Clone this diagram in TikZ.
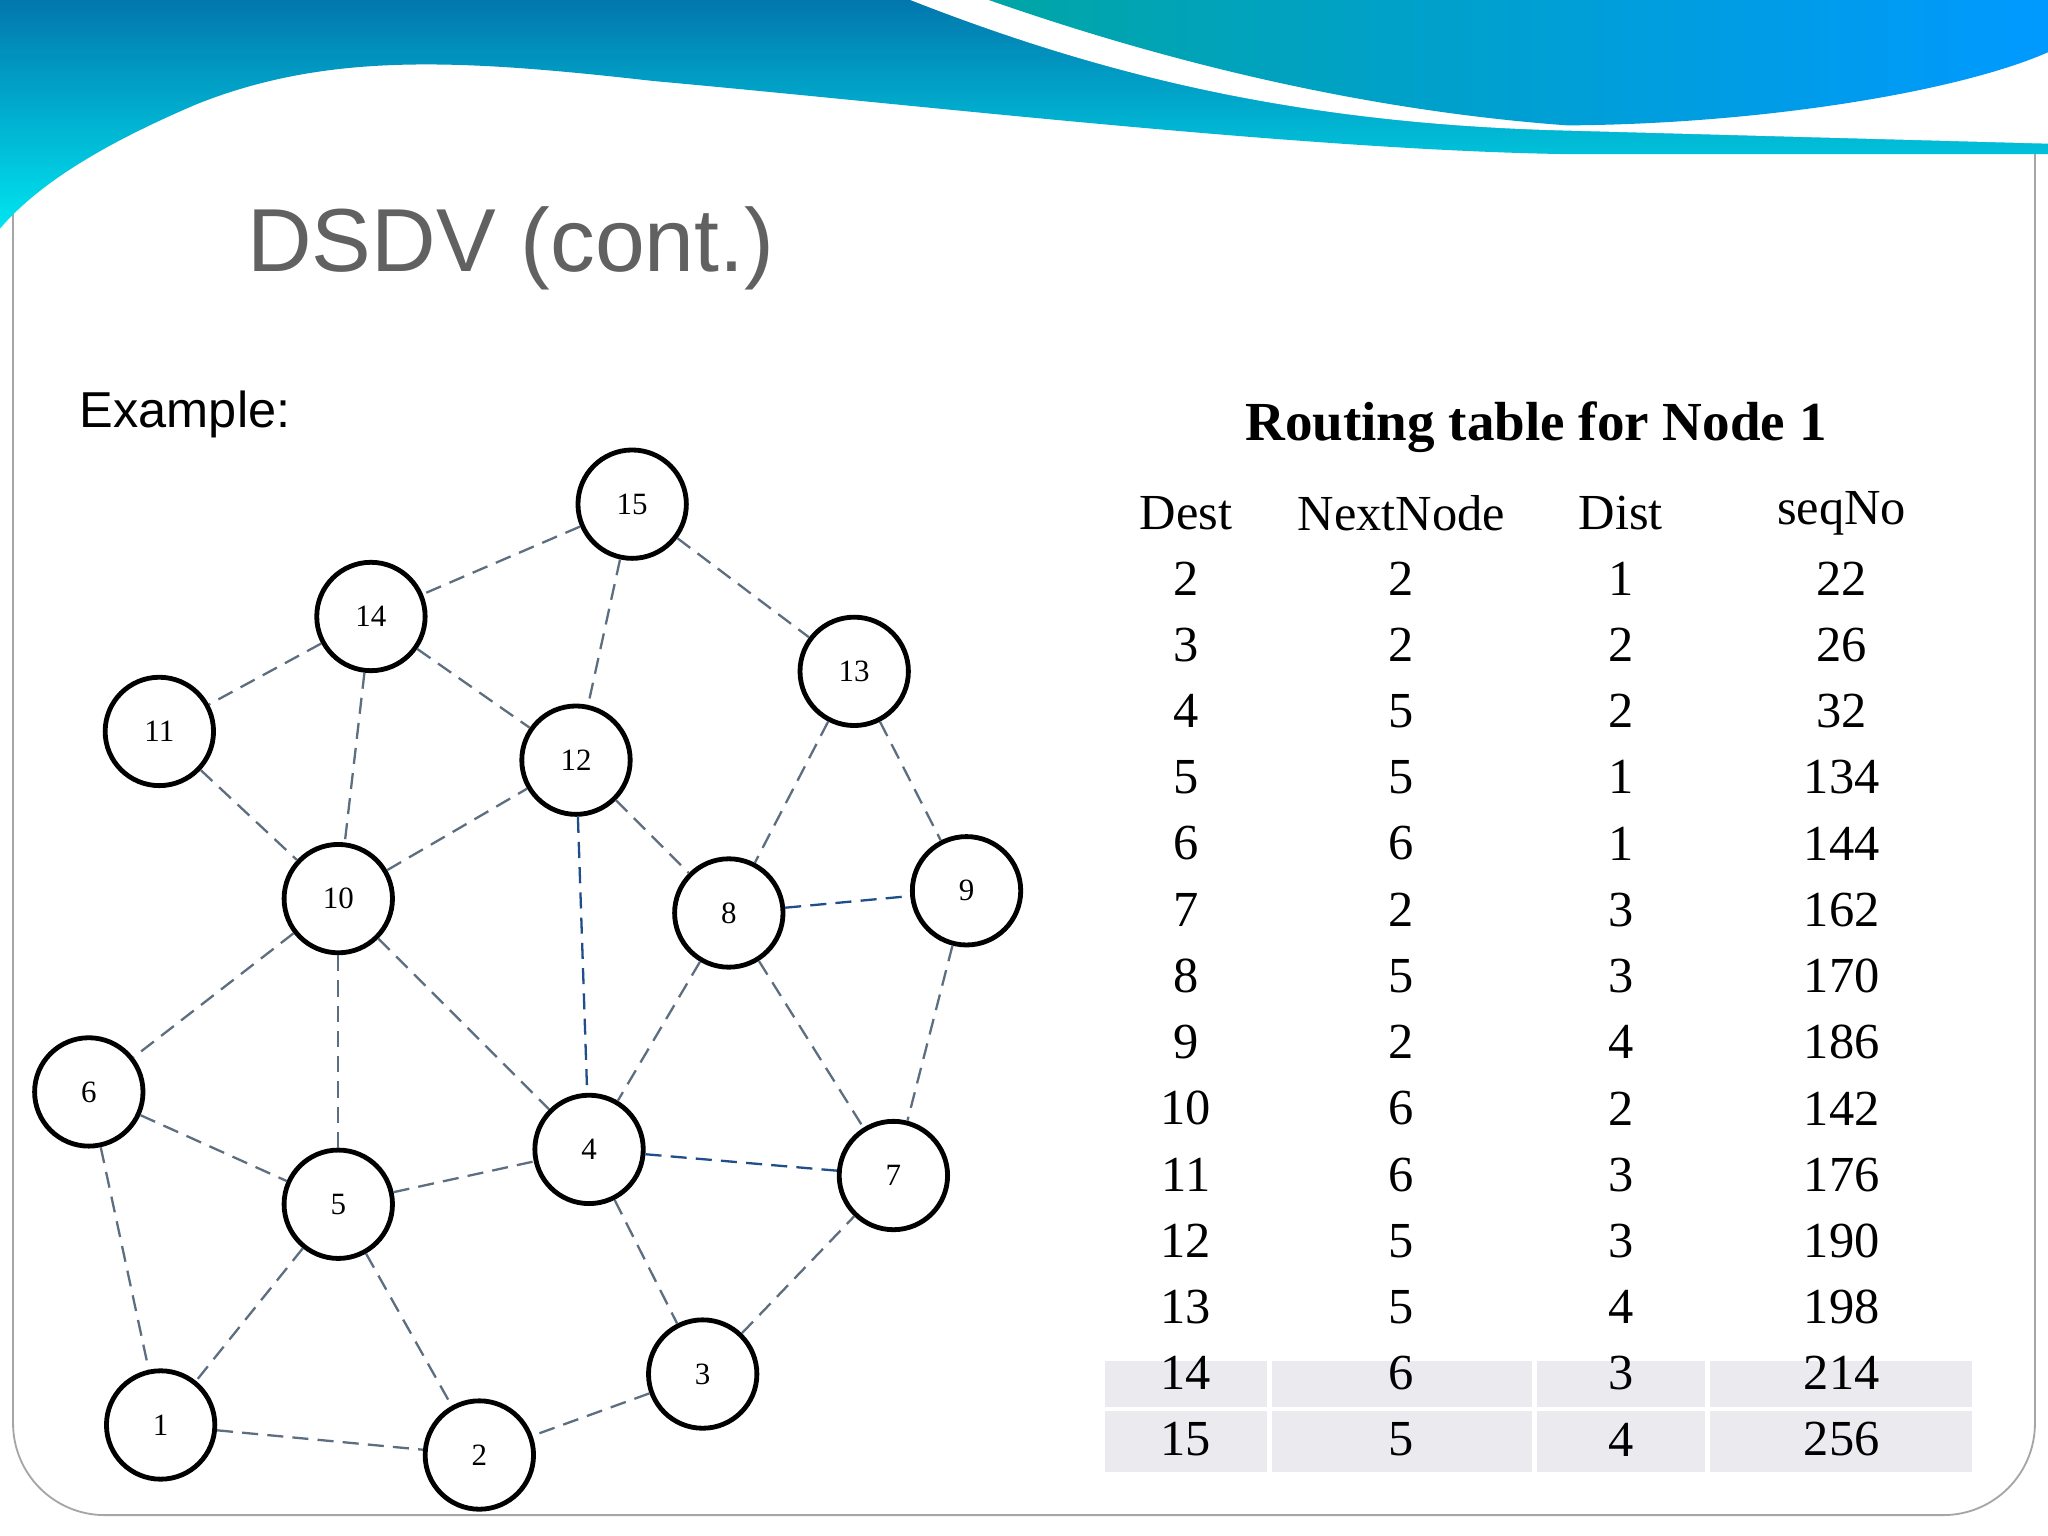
\documentclass[tikz,border=0pt]{standalone}
\usepackage{fontspec}
\setmainfont{Liberation Serif}
\newfontfamily\sansf{Liberation Sans}
\definecolor{bantop}{HTML}{0277AD}
\definecolor{banbot}{HTML}{00E5F0}
\definecolor{edgec}{HTML}{5C6E80}
\definecolor{edgeb}{HTML}{1F4E8A}
\begin{document}
\begin{tikzpicture}[x=0.02cm,y=-0.02cm,
 nd/.style={circle,draw=black,line width=2.1pt,fill=white,minimum size=1.66cm,inner sep=0pt,font=\fontsize{13.5}{15}\selectfont},
 ed/.style={draw=edgec,line width=1pt,dash pattern=on 7pt off 4pt},
 be/.style={ed,draw=edgeb},
 tc/.style={font=\fontsize{22}{24}\selectfont},
 cell/.style={fill=blue!10!gray!14}]
\useasboundingbox (0,0) rectangle (1568,1176);
\fill[white] (0,0) rectangle (1568,1176);
\draw[gray!70,line width=0.8pt,rounded corners=40] (10,40) rectangle (1558,1160);
% banner
\shade[top color=bantop,bottom color=banbot]
 (0,0) -- (1568,0) -- (1568,118) -- (1200,118) .. controls (1000,115) and (700,80) .. (500,62)
 .. controls (350,45) and (250,40) .. (150,80) .. controls (80,110) and (30,140) .. (0,175) -- cycle;
\fill[white] (697,0) .. controls (850,60) and (1000,95) .. (1200,100) -- (1568,110) -- (1568,0) -- cycle;
\shade[left color=teal!70!cyan,right color=cyan!60!blue]
 (757,0) .. controls (900,50) and (1050,85) .. (1200,96) .. controls (1350,95) and (1500,70) .. (1568,40) -- (1568,0) -- cycle;
\node[anchor=west,text=black!62,font=\sansf\fontsize{39}{42}\selectfont] (title) at (183,190) {DSDV (cont.)};
\node[anchor=west,font=\sansf\fontsize{22}{24}\selectfont] (ex) at (55,317) {Example:};
% nodes
\foreach \n/\x/\y in {15/484/386,14/284/472,11/122/560,13/654/514,12/441/582,10/259/688,8/558/699,9/740/682,6/68/836,4/451/880,7/684/900,5/259/922,3/538/1052,1/123/1091,2/367/1114}
 \node[nd] (n\n) at (\x,\y) {\n};
\foreach \a/\b in {15/14,15/12,15/13,14/11,14/12,14/10,11/10,10/12,12/8,13/8,13/9,8/4,8/7,9/7,10/6,10/5,10/4,6/5,6/1,5/4,5/1,5/2,4/3,3/7,3/2,1/2}
 \draw[ed] (n\a) -- (n\b);
\foreach \a/\b in {12/4,8/9,4/7}
 \draw[be] (n\a) -- (n\b);
% table
\fill[cell] (846,1042) rectangle (970,1077);
\fill[cell] (974,1042) rectangle (1173,1077);
\fill[cell] (1177,1042) rectangle (1305,1077);
\fill[cell] (1309,1042) rectangle (1510,1077);
\fill[cell] (846,1080) rectangle (970,1127);
\fill[cell] (974,1080) rectangle (1173,1127);
\fill[cell] (1177,1080) rectangle (1305,1127);
\fill[cell] (1309,1080) rectangle (1510,1127);
\node[font=\bfseries\fontsize{24}{26}\selectfont] (tt) at (1176,327) {Routing table for Node 1};
\node[tc] (h1) at (908,393) {Dest};
\node[tc] (h2) at (1073,393) {NextNode};
\node[tc] (h3) at (1241,393) {Dist};
\node[tc] (h4) at (1410,393) {seqNo};
\foreach \d/\nn/\di/\s [count=\i] in {2/2/1/22,3/2/2/26,4/5/2/32,5/5/1/134,6/6/1/144,7/2/3/162,8/5/3/170,9/2/4/186,10/6/2/142,11/6/3/176,12/5/3/190,13/5/4/198,14/6/3/214,15/5/4/256}{
 \node[tc] (r\i a) at (908,{443+50.7*(\i-1)}) {\d};
 \node[tc] (r\i b) at (1073,{443+50.7*(\i-1)}) {\nn};
 \node[tc] (r\i c) at (1241,{443+50.7*(\i-1)}) {\di};
 \node[tc] (r\i d) at (1410,{443+50.7*(\i-1)}) {\s};
}
\end{tikzpicture}
\end{document}
